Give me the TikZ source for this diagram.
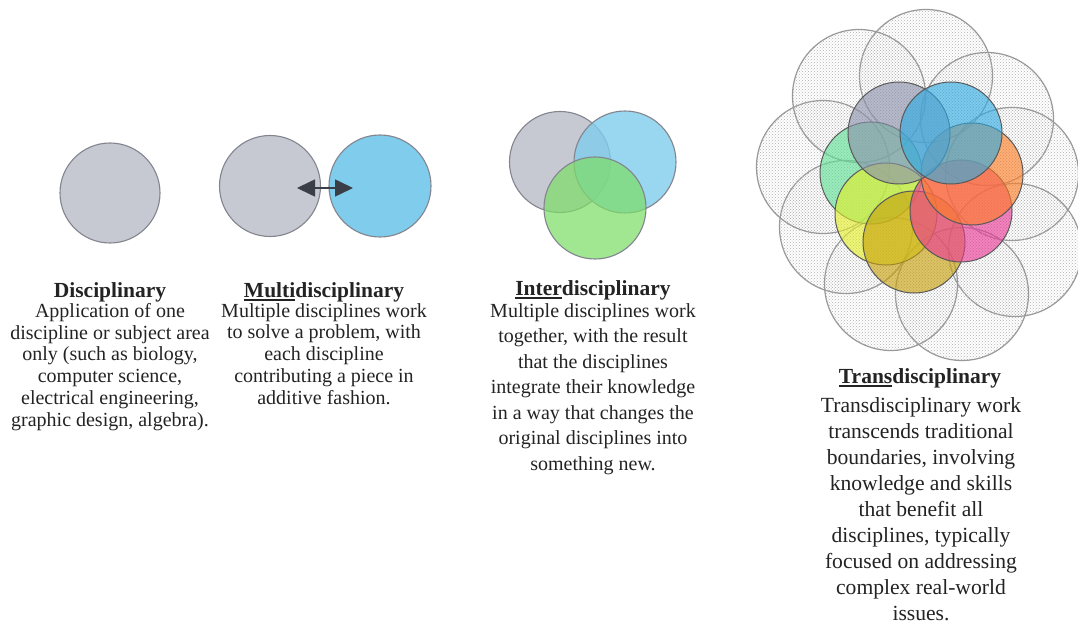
\documentclass[tikz,border=0pt]{standalone}
\usepackage{fontspec}
\setmainfont{Liberation Serif}
\usetikzlibrary{arrows.meta,patterns}
\definecolor{cgray}{RGB}{198,200,210}
\definecolor{cblue}{RGB}{128,204,236}
\definecolor{cgreen}{RGB}{125,222,105}
\definecolor{cedge}{RGB}{130,133,142}
\definecolor{carrow}{RGB}{58,62,70}
\definecolor{ctext}{RGB}{35,35,35}
\definecolor{fgray}{RGB}{140,145,172}
\definecolor{fblue}{RGB}{45,172,228}
\definecolor{forange}{RGB}{255,125,35}
\definecolor{fmag}{RGB}{235,55,150}
\definecolor{folive}{RGB}{200,160,10}
\definecolor{fyellow}{RGB}{228,240,40}
\definecolor{fgreen}{RGB}{95,225,150}
\newcommand\myul[1]{\setbox0\hbox{#1}\rlap{\rule[-3.5pt]{\wd0}{2pt}}#1}
\tikzset{
  disc/.style={circle, inner sep=0pt, minimum size=#1, draw=cedge, line width=1.1pt},
  outerc/.style={circle, inner sep=0pt, minimum size=133, draw=gray!80, line width=1.2pt, pattern=crosshatch dots, pattern color=gray!60},
  petal/.style={circle, inner sep=0pt, minimum size=102, draw=gray!70!black, line width=1pt, fill=#1, fill opacity=0.62},
  ttl/.style={font=\fontsize{21.5}{24}\selectfont\bfseries, text=ctext, inner sep=0pt},
  body/.style={font=\fontsize{20}{21.8}\selectfont, text=ctext, align=center, inner sep=0pt},
}
\begin{document}
\begin{tikzpicture}[x=1pt,y=-1pt]
\useasboundingbox (0,0) rectangle (1078,628);
\fill[white] (0,0) rectangle (1078,628);
% Disciplinary
\node[disc=100, fill=cgray] (d1) at (110,193) {};
% Multidisciplinary
\node[disc=101, fill=cgray] (m1) at (270,186) {};
\node[disc=102, fill=cblue] (m2) at (380,186) {};
\coordinate (ma) at (297,188);
\coordinate (mb) at (353,188);
\draw[carrow, line width=1.6pt, {Triangle[length=18pt,width=17pt]}-{Triangle[length=18pt,width=17pt]}] (ma) -- (mb);
% Interdisciplinary
\node[disc=101, fill=cgray] (i1) at (560,162) {};
\node[disc=102, fill=cblue, fill opacity=0.8] (i2) at (625,162) {};
\node[disc=102, fill=cgreen, fill opacity=0.72] (i3) at (595,208) {};
% Transdisciplinary flower: outer patterned circles
\node[outerc] (o1) at (926,76) {};
\node[outerc] (o2) at (987,119) {};
\node[outerc] (o3) at (1012,174) {};
\node[outerc] (o4) at (1015,250) {};
\node[outerc] (o5) at (962,294) {};
\node[outerc] (o6) at (891,284) {};
\node[outerc] (o7) at (846,227) {};
\node[outerc] (o8) at (823,167) {};
\node[outerc] (o9) at (859,96) {};
% coloured petals
\node[petal=fgreen] (p1) at (871,173) {};
\node[petal=fyellow] (p2) at (886,214) {};
\node[petal=folive] (p3) at (914,242) {};
\node[petal=fmag] (p4) at (961,211) {};
\node[petal=forange] (p5) at (972,174) {};
\node[petal=fgray] (p6) at (899,133) {};
\node[petal=fblue] (p7) at (951,133) {};
% Texts
\node[ttl, anchor=base] (t1) at (110,297) {Disciplinary};
\node[body, anchor=north] (b1) at (110,303) {Application of one\\discipline or subject area\\only (such as biology,\\computer science,\\electrical engineering,\\graphic design, algebra).};
\node[ttl, anchor=base] (t2) at (324,297) {\myul{Multi}disciplinary};
\node[body, anchor=north] (b2) at (324,303) {Multiple disciplines work\\to solve a problem, with\\each discipline\\contributing a piece in\\additive fashion.};
\node[ttl, anchor=base] (t3) at (593,295) {\myul{Inter}disciplinary};
\node[body, anchor=north, font=\fontsize{20}{25.5}\selectfont] (b3) at (593,303) {Multiple disciplines work\\together, with the result\\that the disciplines\\integrate their knowledge\\in a way that changes the\\original disciplines into\\something new.};
\node[ttl, anchor=base] (t4) at (920,383) {\myul{Trans}disciplinary};
\node[body, anchor=north, font=\fontsize{21.6}{26}\selectfont] (b4) at (921,397) {Transdisciplinary work\\transcends traditional\\boundaries, involving\\knowledge and skills\\that benefit all\\disciplines, typically\\focused on addressing\\complex real-world\\issues.};
\end{tikzpicture}
\end{document}
